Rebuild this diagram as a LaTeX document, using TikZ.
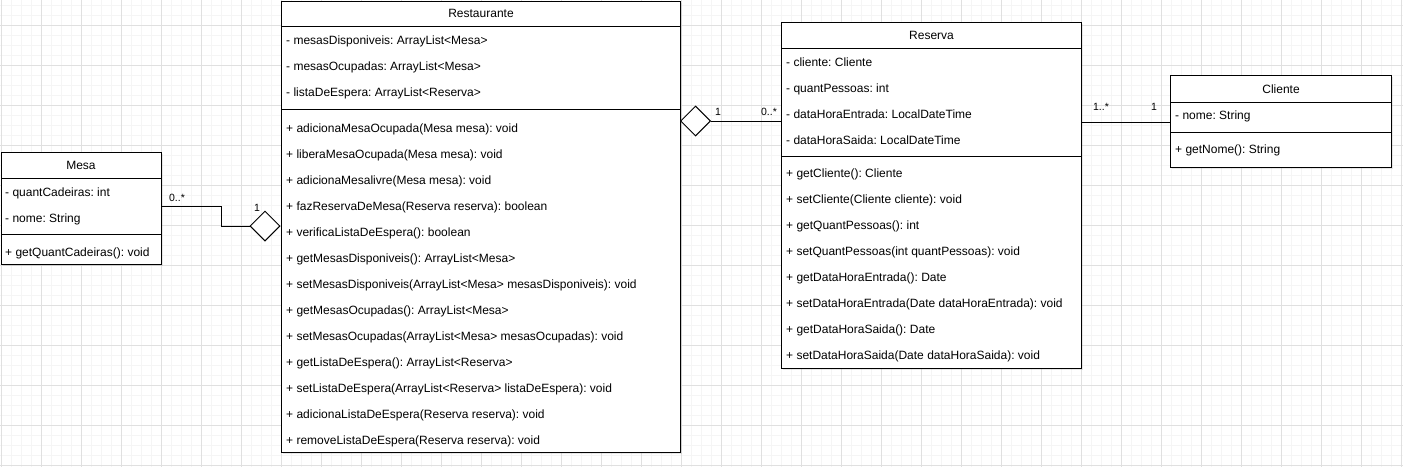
\documentclass[tikz,border=0pt]{standalone}
\usepackage{fontspec}
\setmainfont{Liberation Sans}
\usetikzlibrary{shapes.geometric,shadows}
\definecolor{minorgrid}{RGB}{245,245,245}
\definecolor{majorgrid}{RGB}{224,224,224}
\frenchspacing

\begin{document}
\begin{tikzpicture}[x=1pt, y=-1pt,
  every node/.style={font=\fontsize{12}{14}\selectfont, inner sep=0pt},
  part/.style={draw, line width=1pt, rectangle, anchor=north west, fill=white,
    drop shadow={opacity=0.18, shadow xshift=1.5pt, shadow yshift=-1.5pt}},
  member/.style={anchor=west, text height=9pt, text depth=2.5pt, yshift=-0.8pt},
  mult/.style={font=\fontsize{10.5}{12}\selectfont},
  agg/.style={draw, diamond, fill=white, line width=1pt, minimum width=30pt, minimum height=30pt},
  assoc/.style={line width=1pt}]
\useasboundingbox[fill=white] (0,0) rectangle (1403,467);
% grid
\foreach \gx in {1,11,...,1401} \draw[minorgrid, line width=1pt] (\gx,0) -- (\gx,467);
\foreach \gy in {5,15,...,465} \draw[minorgrid, line width=1pt] (0,\gy) -- (1403,\gy);
\foreach \gx in {1,41,...,1401} \draw[majorgrid, line width=1pt] (\gx,0) -- (\gx,467);
\foreach \gy in {25,65,...,465} \draw[majorgrid, line width=1pt] (0,\gy) -- (1403,\gy);
% Mesa
\node[part, minimum width=160pt, minimum height=26pt] (mesaHead) at (0.5,152) {Mesa};
\node[part, minimum width=160pt, minimum height=56pt] (mesaAttr) at (0.5,178) {};
\node[part, minimum width=160pt, minimum height=30pt] (mesaOps) at (0.5,234) {};
\node[member] (mesaA1) at (5,192) {- quantCadeiras: int};
\node[member] (mesaA2) at (5,218) {- nome: String};
\node[member] (mesaM1) at (5,252) {+ getQuantCadeiras(): void};
% Restaurante
\node[part, minimum width=399pt, minimum height=25.5pt] (resHead) at (281,0.5) {Restaurante};
\node[part, minimum width=399pt, minimum height=83pt] (resAttr) at (281,26) {};
\node[part, minimum width=399pt, minimum height=343pt] (resOps) at (281,109) {};
\node[member] (resA1) at (286,40) {- mesasDisponiveis: ArrayList<Mesa>};
\node[member] (resA2) at (286,66) {- mesasOcupadas: ArrayList<Mesa>};
\node[member] (resA3) at (286,92) {- listaDeEspera: ArrayList<Reserva>};
\node[member] (resM1) at (286,128) {+ adicionaMesaOcupada(Mesa mesa): void};
\node[member] (resM2) at (286,154) {+ liberaMesaOcupada(Mesa mesa): void};
\node[member] (resM3) at (286,180) {+ adicionaMesalivre(Mesa mesa): void};
\node[member] (resM4) at (286,206) {+ fazReservaDeMesa(Reserva reserva): boolean};
\node[member] (resM5) at (286,232) {+ verificaListaDeEspera(): boolean};
\node[member] (resM6) at (286,258) {+ getMesasDisponiveis(): ArrayList<Mesa>};
\node[member] (resM7) at (286,284) {+ setMesasDisponiveis(ArrayList<Mesa> mesasDisponiveis): void};
\node[member] (resM8) at (286,310) {+ getMesasOcupadas(): ArrayList<Mesa>};
\node[member] (resM9) at (286,336) {+ setMesasOcupadas(ArrayList<Mesa> mesasOcupadas): void};
\node[member] (resM10) at (286,362) {+ getListaDeEspera(): ArrayList<Reserva>};
\node[member] (resM11) at (286,388) {+ setListaDeEspera(ArrayList<Reserva> listaDeEspera): void};
\node[member] (resM12) at (286,414) {+ adicionaListaDeEspera(Reserva reserva): void};
\node[member] (resM13) at (286,440) {+ removeListaDeEspera(Reserva reserva): void};
% Reserva
\node[part, minimum width=300pt, minimum height=26pt] (resvHead) at (781,22) {Reserva};
\node[part, minimum width=300pt, minimum height=108pt] (resvAttr) at (781,48) {};
\node[part, minimum width=300pt, minimum height=212pt] (resvOps) at (781,156) {};
\node[member] (resvA1) at (786,62) {- cliente: Cliente};
\node[member] (resvA2) at (786,88) {- quantPessoas: int};
\node[member] (resvA3) at (786,114) {- dataHoraEntrada: LocalDateTime};
\node[member] (resvA4) at (786,140) {- dataHoraSaida: LocalDateTime};
\node[member] (resvM1) at (786,173.5) {+ getCliente(): Cliente};
\node[member] (resvM2) at (786,199.5) {+ setCliente(Cliente cliente): void};
\node[member] (resvM3) at (786,225.5) {+ getQuantPessoas(): int};
\node[member] (resvM4) at (786,251.5) {+ setQuantPessoas(int quantPessoas): void};
\node[member] (resvM5) at (786,277.5) {+ getDataHoraEntrada(): Date};
\node[member] (resvM6) at (786,303.5) {+ setDataHoraEntrada(Date dataHoraEntrada): void};
\node[member] (resvM7) at (786,329.5) {+ getDataHoraSaida(): Date};
\node[member] (resvM8) at (786,355.5) {+ setDataHoraSaida(Date dataHoraSaida): void};
% Cliente
\node[part, minimum width=221pt, minimum height=27pt] (cliHead) at (1170,75) {Cliente};
\node[part, minimum width=221pt, minimum height=30pt] (cliAttr) at (1170,102) {};
\node[part, minimum width=221pt, minimum height=35pt] (cliOps) at (1170,132) {};
\node[member] (cliA1) at (1175,115) {- nome: String};
\node[member] (cliM1) at (1175,149) {+ getNome(): String};
% aggregations
\node[agg] (aggMesa) at (265,226) {};
\node[agg] (aggRes) at (695.5,121) {};
\draw[assoc] (mesaAttr.east) -- ++(60,0) |- (aggMesa.west);
\draw[assoc] (aggRes.east) -- (aggRes.east -| resvAttr.west);
\draw[assoc] (resvAttr.east |- 0,122) -- (cliAttr.west |- 0,122);
% multiplicities
\node[mult] (mMesa) at (177,198) {0..*};
\node[mult] (mMesaRes) at (257,208) {1};
\node[mult] (mResRes) at (718,112) {1};
\node[mult] (mResv) at (769,112) {0..*};
\node[mult] (mResvCli) at (1101,107) {1..*};
\node[mult] (mCli) at (1154,107) {1};
\end{tikzpicture}
\end{document}
